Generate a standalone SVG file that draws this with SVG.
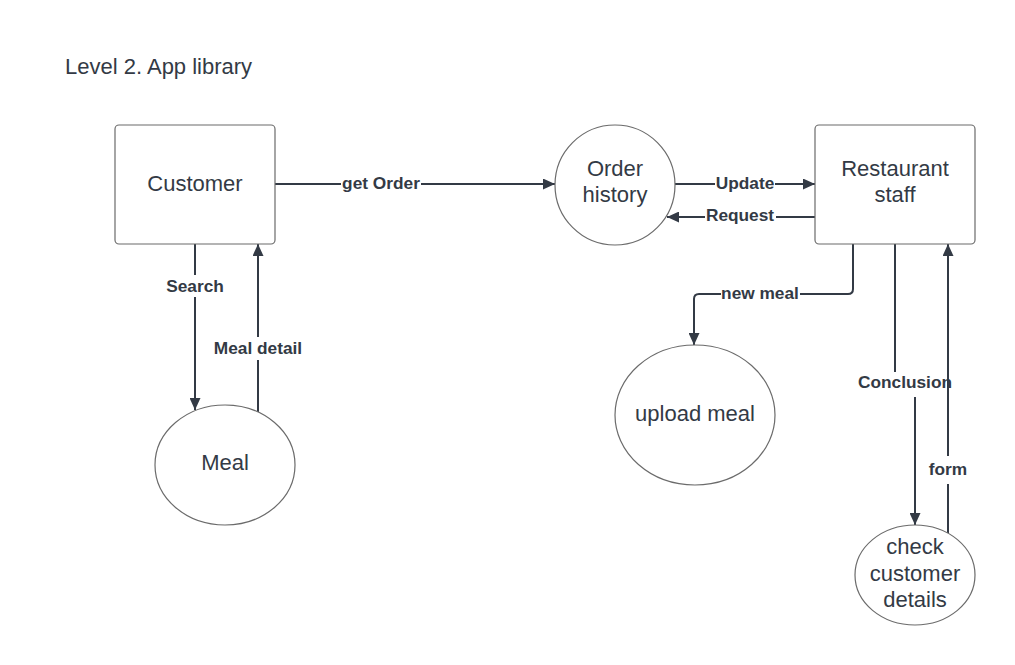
<svg xmlns="http://www.w3.org/2000/svg" width="1015" height="665" viewBox="0 0 1015 665">
<style>
.box{fill:#fff;stroke:#6b6b6b;stroke-width:1.2}
.nt{font-family:"Liberation Sans",Arial,sans-serif;font-size:22px;fill:#333a45;text-anchor:middle}
.ln{fill:none;stroke:#333a45;stroke-width:2}
.bg{fill:#fff}
.lb{font-family:"Liberation Sans",Arial,sans-serif;font-size:17.3px;font-weight:bold;fill:#333a45;text-anchor:middle;dominant-baseline:central}
</style>
<defs>
<marker id="ah" markerUnits="userSpaceOnUse" markerWidth="13" markerHeight="11" refX="12" refY="5.5" orient="auto">
<path d="M0,0 L12,5.5 L0,11 z" fill="#333a45"/>
</marker>
</defs>
<rect width="1015" height="665" fill="#fff"/>
<text x="65" y="74" font-family="Liberation Sans,Arial,sans-serif" font-size="22" fill="#333a45">Level 2. App library</text>
<g id="connectors">
<path class="ln" d="M275,184 H555" marker-end="url(#ah)"/>
<rect class="bg" x="341" y="173" width="80" height="22"/>
<text class="lb" x="381" y="183">get Order</text>
<path class="ln" d="M675,184 H815" marker-end="url(#ah)"/>
<rect class="bg" x="715" y="173" width="60" height="22"/>
<text class="lb" x="745" y="183">Update</text>
<path class="ln" d="M815,217 H667" marker-end="url(#ah)"/>
<rect class="bg" x="705" y="205" width="71" height="22"/>
<text class="lb" x="740" y="215">Request</text>
<path class="ln" d="M195,244 V410" marker-end="url(#ah)"/>
<rect class="bg" x="165" y="275" width="60" height="22"/>
<text class="lb" x="195" y="286">Search</text>
<path class="ln" d="M258,412 V244" marker-end="url(#ah)"/>
<rect class="bg" x="212" y="337" width="92" height="23"/>
<text class="lb" x="258" y="348">Meal detail</text>
<path class="ln" d="M853,244 V289 Q853,294 848,294 H699 Q694,294 694,299 V345" marker-end="url(#ah)"/>
<rect class="bg" x="721" y="283" width="79" height="22"/>
<text class="lb" x="760" y="293">new meal</text>
<path class="ln" d="M895,244 V382 H915 V525" marker-end="url(#ah)"/>
<rect class="bg" x="856" y="372" width="98" height="25"/>
<text class="lb" x="905" y="382">Conclusion</text>
<path class="ln" d="M948,533 V244" marker-end="url(#ah)"/>
<rect class="bg" x="927" y="456" width="42" height="28"/>
<text class="lb" x="948" y="469">form</text>
</g>
<g id="customer">
<rect class="box" x="115" y="125" width="160" height="119" rx="4"/>
<text class="nt" x="195" y="191">Customer</text>
</g>
<g id="order-history">
<circle class="box" cx="615" cy="185" r="60"/>
<text class="nt" x="615" y="176">Order</text>
<text class="nt" x="615" y="202">history</text>
</g>
<g id="restaurant-staff">
<rect class="box" x="815" y="125" width="160" height="119" rx="4"/>
<text class="nt" x="895" y="176">Restaurant</text>
<text class="nt" x="895" y="202">staff</text>
</g>
<g id="meal">
<ellipse class="box" cx="225" cy="465" rx="70" ry="60"/>
<text class="nt" x="225" y="470">Meal</text>
</g>
<g id="upload-meal">
<ellipse class="box" cx="695" cy="415" rx="80" ry="70"/>
<text class="nt" x="695" y="421">upload meal</text>
</g>
<g id="check-customer-details">
<ellipse class="box" cx="915" cy="575" rx="60" ry="50"/>
<text class="nt" x="915" y="554">check</text>
<text class="nt" x="915" y="581">customer</text>
<text class="nt" x="915" y="607">details</text>
</g>
</svg>
